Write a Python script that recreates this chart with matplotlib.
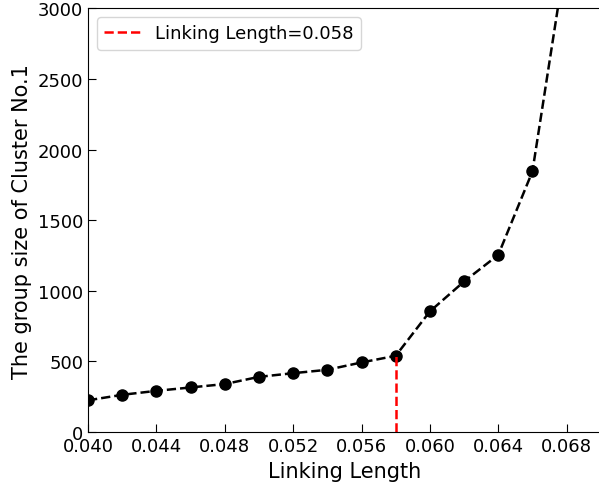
import matplotlib
matplotlib.use('Agg')
import matplotlib.pyplot as plt

# linking length vs. size of the largest group
linking_length = [0.040, 0.042, 0.044, 0.046, 0.048, 0.050, 0.052,
                  0.054, 0.056, 0.058, 0.060, 0.062, 0.064, 0.066, 0.068]
group_size = [225, 264, 292, 316, 340, 391, 417,
              441, 493, 540, 854, 1066, 1254, 1845, 3400]
chosen_ll = 0.058
chosen_size = 540

fig = plt.figure(figsize=(5.99, 4.85), dpi=100)
ax = fig.add_axes([0.147, 0.107, 0.856, 0.874])

ax.plot(linking_length, group_size, 'k--', marker='o', markersize=8, linewidth=1.8)
ax.plot([chosen_ll, chosen_ll], [0, chosen_size], 'r--', linewidth=1.8,
        label='Linking Length=%.3f' % chosen_ll)

ax.set_xlim(0.040, 0.070)
ax.set_ylim(0, 3000)
ax.set_xticks([0.040, 0.044, 0.048, 0.052, 0.056, 0.060, 0.064, 0.068])
ax.set_xticklabels(['0.040', '0.044', '0.048', '0.052', '0.056', '0.060', '0.064', '0.068'])
ax.tick_params(direction='in', labelsize=13, length=6)
ax.set_xlabel('Linking Length', fontsize=15)
ax.set_ylabel('The group size of Cluster No.1', fontsize=15)
ax.legend(loc='upper left', fontsize=13)

fig.savefig('out.png', dpi=100)
